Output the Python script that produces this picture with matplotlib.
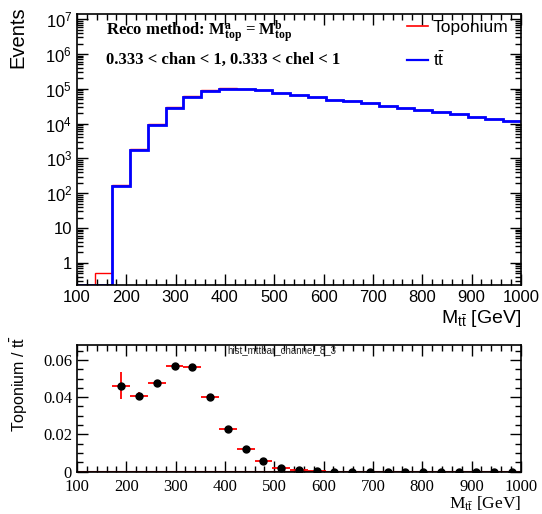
import numpy as np
import matplotlib
matplotlib.use('Agg')
from matplotlib import pyplot as plt
from matplotlib.lines import Line2D
from matplotlib.ticker import MultipleLocator, FixedLocator, FixedFormatter, LogLocator, NullFormatter

plt.rcParams['font.family'] = 'Liberation Sans'
plt.rcParams['mathtext.fontset'] = 'custom'
plt.rcParams['mathtext.rm'] = 'Liberation Serif'
plt.rcParams['mathtext.sf'] = 'Liberation Sans'
plt.rcParams['mathtext.bf'] = 'Liberation Serif:bold'
plt.rcParams['mathtext.it'] = 'Liberation Serif:italic'

# M_ttbar binning: 25 bins of 36 GeV between 100 and 1000
edges = np.linspace(100, 1000, 26)

# ttbar yields per bin
ttbar = [0, 0, 165, 1770, 9200, 28500, 59000, 89000, 100000, 100000,
         92000, 78000, 67000, 57000, 49000, 44000, 38000, 32000, 29000,
         25000, 21500, 19000, 15500, 13500, 11700]

# toponium yields per bin
toponium = [0, 0.5, 7.6, 72, 440, 1610, 3300, 3560, 2300, 1200,
            506, 140, 47, 17, 5, 4, 3, 2, 2, 1.5, 1, 1, 0.8, 0.6, 0.5]

# statistical uncertainty on the ratio
ratio_err = [0, 0, 0.0072, 0.0022, 0.0012, 0.0008, 0.0006, 0.0005, 0.0004,
             0.0003, 0.0002, 0.0001, 0.0001, 0, 0, 0, 0, 0, 0, 0, 0, 0, 0, 0, 0]

ttbar = np.array(ttbar, dtype=float)
toponium = np.array(toponium, dtype=float)
total = ttbar + toponium
centers = 0.5 * (edges[1:] + edges[:-1])
halfw = 0.5 * (edges[1:] - edges[:-1])

ymin, ymax = 0.23, 1.4e7

fig = plt.figure(figsize=(5.42, 5.14), dpi=100)
ax = fig.add_axes([0.142, 0.4455, 0.819, 0.527])
rax = fig.add_axes([0.142, 0.0823, 0.819, 0.2465])

# upper panel: stepped histograms on log scale
ax.stairs(np.clip(total, ymin, None), edges, baseline=None, color='#ff0000', lw=1.0)
ax.stairs(np.clip(ttbar, ymin, None), edges, baseline=None, color='#0000ff', lw=2.0)
ax.set_yscale('log')
ax.set_xlim(100, 1000)
ax.set_ylim(ymin, ymax)

ax.yaxis.set_major_locator(FixedLocator([1, 10, 1e2, 1e3, 1e4, 1e5, 1e6, 1e7]))
ax.yaxis.set_major_formatter(FixedFormatter(
    ['1', '10', r'$\mathsf{10^{2}}$', r'$\mathsf{10^{3}}$', r'$\mathsf{10^{4}}$',
     r'$\mathsf{10^{5}}$', r'$\mathsf{10^{6}}$', r'$\mathsf{10^{7}}$']))
ax.yaxis.set_minor_locator(LogLocator(base=10, subs=np.arange(2, 10), numticks=20))
ax.yaxis.set_minor_formatter(NullFormatter())
ax.xaxis.set_major_locator(MultipleLocator(100))
ax.xaxis.set_minor_locator(MultipleLocator(20))
ax.tick_params(which='both', direction='in', top=True, right=True, labelsize=12)
ax.tick_params(which='major', length=8, width=1)
ax.tick_params(which='minor', length=4, width=1)
ax.set_xlabel(r'$\mathsf{M_{t\bar{t}}}$ [GeV]', loc='right', fontsize=14, labelpad=2)
ax.set_ylabel('Events', loc='top', fontsize=14.5)
ax.yaxis.set_label_coords(-0.112, 1.03)
for s in ax.spines.values():
    s.set_linewidth(1.2)

ax.text(0.065, 0.935, r'Reco method: $\mathbf{M^{a}_{top}}$ = $\mathbf{M^{b}_{top}}$',
        transform=ax.transAxes, fontsize=12, fontweight='bold', family='Liberation Serif',
        va='center')
ax.text(0.065, 0.83, '0.333 < chan < 1, 0.333 < chel < 1',
        transform=ax.transAxes, fontsize=12, fontweight='bold', family='Liberation Serif',
        va='center')
handles = [Line2D([], [], color='#ff0000', lw=1.2), Line2D([], [], color='#0000ff', lw=1.6)]
ax.legend(handles, ['Toponium', r'$\mathsf{t\bar{t}}$'], loc='center left',
          bbox_to_anchor=(0.743, 0.888), frameon=False, fontsize=12.5,
          handlelength=1.2, handletextpad=0.3, labelspacing=0.95,
          borderpad=0, borderaxespad=0)

# lower panel: ratio toponium / ttbar
mask = ttbar > 0
ratio = toponium[mask] / ttbar[mask]
rax.errorbar(centers[mask], ratio, xerr=halfw[mask], yerr=np.array(ratio_err)[mask],
             fmt='o', color='black', ms=5, ecolor='#ff0000', elinewidth=1.3, capsize=0)
rax.axhline(0, color='#8b0000', lw=1.5)
rax.set_xlim(100, 1000)
rax.set_ylim(0, 0.068)
rax.xaxis.set_major_locator(MultipleLocator(100))
rax.xaxis.set_minor_locator(MultipleLocator(20))
rax.yaxis.set_major_locator(FixedLocator([0, 0.02, 0.04, 0.06]))
rax.yaxis.set_major_formatter(FixedFormatter(['0', '0.02', '0.04', '0.06']))
rax.yaxis.set_minor_locator(MultipleLocator(0.005))
rax.tick_params(which='both', direction='in', top=True, right=True, labelsize=12)
rax.tick_params(which='major', length=8, width=1)
rax.tick_params(which='minor', length=4, width=1)
rax.tick_params(axis='x', pad=5)
for lab in rax.get_xticklabels() + rax.get_yticklabels():
    lab.set_family('Liberation Serif')
rax.set_xlabel(r'$\mathrm{M_{t\bar{t}}}$ [GeV]', loc='right', fontsize=12.5,
               family='Liberation Serif', labelpad=0)
rax.set_ylabel(r'Toponium / $\mathsf{t\bar{t}}$', loc='top', fontsize=11.5)
rax.yaxis.set_label_coords(-0.106, 1.075)
for s in rax.spines.values():
    s.set_linewidth(1.2)
fig.text(282 / 542, 1 - 350 / 514, 'hist_mttbar_channel_8_3', fontsize=7,
         color='#222222', ha='center', va='center')

fig.savefig('out.png', dpi=100)
